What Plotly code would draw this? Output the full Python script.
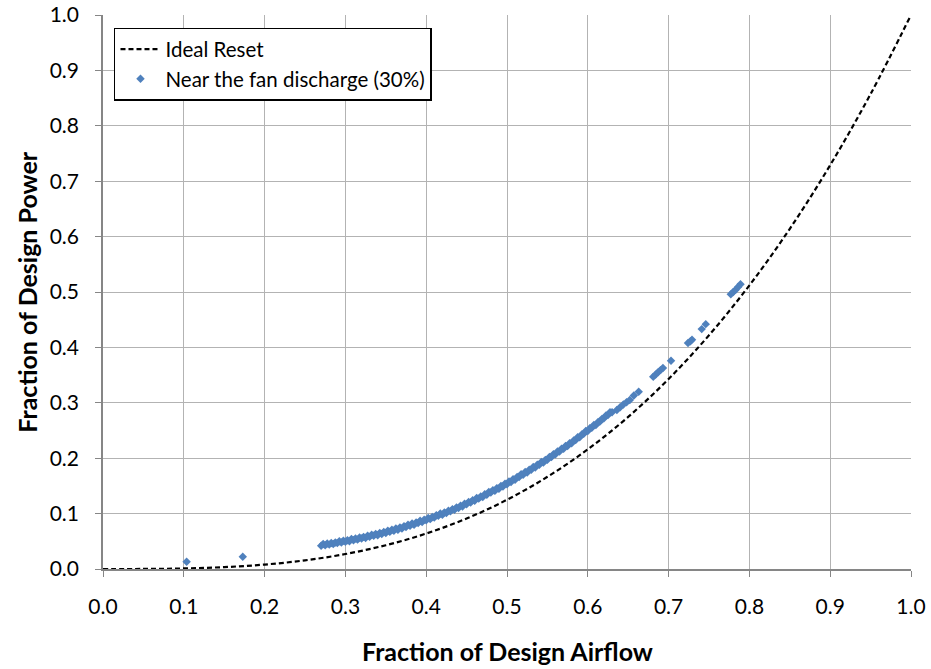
import plotly.graph_objects as go

# Ideal reset curve
ideal_x = [0.0, 0.05, 0.10, 0.15, 0.20, 0.25, 0.30, 0.35, 0.40, 0.45, 0.50,
           0.55, 0.60, 0.65, 0.70, 0.75, 0.80, 0.85, 0.90, 0.95, 1.0]
ideal_y = [0.0, 0.0001, 0.001, 0.0034, 0.008, 0.0156, 0.027, 0.0429, 0.064, 0.0911, 0.125,
           0.1664, 0.216, 0.2746, 0.343, 0.4219, 0.512, 0.6141, 0.729, 0.8574, 1.0]

# Near the fan discharge (30%) measured points
fan_x = [0.1035, 0.173,
         0.270, 0.275, 0.280, 0.285, 0.290, 0.295, 0.300, 0.305, 0.310, 0.315,
         0.320, 0.325, 0.330, 0.335, 0.340, 0.345, 0.350, 0.355, 0.360, 0.365,
         0.370, 0.375, 0.380, 0.385, 0.390, 0.395, 0.400, 0.405, 0.410, 0.415,
         0.420, 0.425, 0.430, 0.435, 0.440, 0.445, 0.450, 0.455, 0.460, 0.465,
         0.470, 0.475, 0.480, 0.485, 0.490, 0.495, 0.500, 0.505, 0.510, 0.515,
         0.520, 0.525, 0.530, 0.535, 0.540, 0.545, 0.550, 0.555, 0.560, 0.565,
         0.570, 0.575, 0.580, 0.585, 0.590, 0.595, 0.600, 0.605, 0.610, 0.615,
         0.620, 0.625, 0.630,
         0.2725, 0.2775, 0.2825, 0.2875, 0.2925, 0.2975, 0.3025, 0.3075, 0.3125, 0.3175,
         0.3225, 0.3275, 0.3325, 0.3375, 0.3425, 0.3475, 0.3525, 0.3575, 0.3625, 0.3675,
         0.3725, 0.3775, 0.3825, 0.3875, 0.3925, 0.3975, 0.4025, 0.4075, 0.4125, 0.4175,
         0.4225, 0.4275, 0.4325, 0.4375, 0.4425, 0.4475, 0.4525, 0.4575, 0.4625, 0.4675,
         0.4725, 0.4775, 0.4825, 0.4875, 0.4925, 0.4975, 0.5025, 0.5075, 0.5125, 0.5175,
         0.5225, 0.5275, 0.5325, 0.5375, 0.5425, 0.5475, 0.5525, 0.5575, 0.5625, 0.5675,
         0.5725, 0.5775, 0.5825, 0.5875, 0.5925, 0.5975, 0.6025, 0.6075, 0.6125, 0.6175,
         0.6225, 0.6275,
         0.636, 0.640, 0.644, 0.648, 0.652, 0.657, 0.663,
         0.681, 0.684, 0.687, 0.690, 0.693, 0.703,
         0.724, 0.727, 0.729, 0.741, 0.746,
         0.777, 0.780, 0.783, 0.786, 0.789]
fan_y = [0.013, 0.022,
         0.042, 0.043, 0.044, 0.045, 0.047, 0.048, 0.049, 0.050, 0.052, 0.053,
         0.055, 0.056, 0.058, 0.060, 0.061, 0.063, 0.065, 0.067, 0.069, 0.071,
         0.073, 0.076, 0.078, 0.080, 0.083, 0.085, 0.088, 0.090, 0.093, 0.096,
         0.098, 0.101, 0.104, 0.107, 0.110, 0.113, 0.117, 0.120, 0.123, 0.127,
         0.130, 0.134, 0.138, 0.141, 0.145, 0.149, 0.153, 0.157, 0.161, 0.166,
         0.170, 0.174, 0.179, 0.183, 0.188, 0.192, 0.197, 0.202, 0.207, 0.212,
         0.217, 0.222, 0.227, 0.233, 0.238, 0.244, 0.249, 0.255, 0.260, 0.266,
         0.272, 0.278, 0.283,
         0.045, 0.046, 0.047, 0.048, 0.050, 0.051, 0.052, 0.054, 0.055, 0.057,
         0.058, 0.060, 0.062, 0.063, 0.065, 0.067, 0.069, 0.071, 0.073, 0.075,
         0.077, 0.080, 0.082, 0.084, 0.087, 0.089, 0.092, 0.094, 0.097, 0.100,
         0.102, 0.105, 0.108, 0.111, 0.114, 0.118, 0.121, 0.124, 0.128, 0.131,
         0.135, 0.139, 0.142, 0.146, 0.150, 0.154, 0.158, 0.162, 0.166, 0.171,
         0.175, 0.179, 0.184, 0.188, 0.193, 0.197, 0.202, 0.207, 0.212, 0.217,
         0.222, 0.227, 0.232, 0.238, 0.243, 0.249, 0.254, 0.260, 0.265, 0.271,
         0.277, 0.283,
         0.287, 0.292, 0.297, 0.301, 0.305, 0.313, 0.320,
         0.347, 0.351, 0.355, 0.359, 0.363, 0.376,
         0.408, 0.411, 0.414, 0.433, 0.442,
         0.496, 0.500, 0.504, 0.509, 0.514]

tick_vals = [0.0, 0.1, 0.2, 0.3, 0.4, 0.5, 0.6, 0.7, 0.8, 0.9, 1.0]
tick_text = ["0.0", "0.1", "0.2", "0.3", "0.4", "0.5", "0.6", "0.7", "0.8", "0.9", "1.0"]

x_title = "Fraction of Design Airflow"
y_title = "Fraction of Design Power"

FONT = "Lato"

fig = go.Figure()
fig.add_trace(go.Scatter(
    x=ideal_x, y=ideal_y, mode="lines", name="Ideal Reset",
    line=dict(color="black", width=2.2, dash="5px,3px", shape="spline"),
))
fig.add_trace(go.Scatter(
    x=fan_x, y=fan_y, mode="markers", name="Near the fan discharge (30%)",
    marker=dict(symbol="diamond", size=6.5, color="#4F81BD"),
))

axis_common = dict(
    range=[0, 1], tickvals=tick_vals, ticktext=tick_text,
    showgrid=True, gridcolor="#B3B3B3", gridwidth=1.3,
    showline=True, linecolor="#868686", linewidth=1.6,
    ticks="outside", ticklen=6, tickcolor="#868686", tickwidth=1.3,
    tickfont=dict(family=FONT, size=21, color="black"),
    zeroline=False, fixedrange=True, automargin=False,
    ticklabelstandoff=12,
)

fig.update_layout(
    width=931, height=669,
    margin=dict(l=103, r=20, t=15, b=100, autoexpand=False),
    paper_bgcolor="white", plot_bgcolor="white",
    showlegend=True,
    legend=dict(
        x=0.0136, y=0.977, xanchor="left", yanchor="top",
        bgcolor="white", bordercolor="black", borderwidth=1.5,
        font=dict(family=FONT, size=20.5, color="black"),
        tracegroupgap=2, itemwidth=40,
    ),
    xaxis=dict(**axis_common),
    yaxis=dict(**axis_common),
    annotations=[
        dict(text="<b>" + x_title + "</b>", xref="paper", yref="paper",
             x=0.5, y=-0.148, xanchor="center", yanchor="middle", showarrow=False,
             font=dict(family=FONT, size=25, color="black")),
        dict(text="<b>" + y_title + "</b>", xref="paper", yref="paper",
             x=-0.0945, y=0.5, xanchor="center", yanchor="middle", showarrow=False,
             textangle=-90, font=dict(family=FONT, size=25, color="black")),
    ],
)

fig.write_html("out.html")
